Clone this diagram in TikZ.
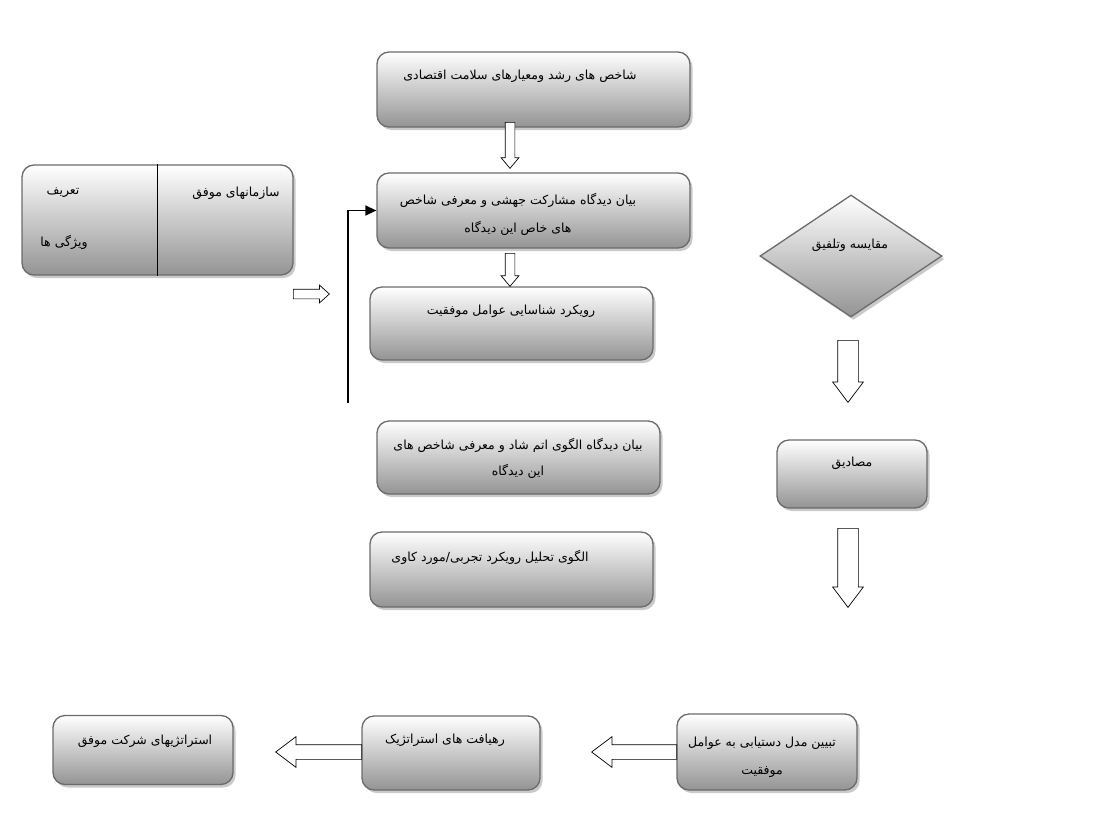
\documentclass[tikz,border=0pt]{standalone}
\usepackage{fontspec}
\newfontfamily\fa[Script=Arabic]{DejaVu Sans}
\TeXXeTstate=1
\usetikzlibrary{arrows.meta, positioning, shapes.geometric, shapes.arrows, shadows}

\begin{document}
\begin{tikzpicture}[x=1pt, y=-1pt,
      box/.style={draw=black!58, line width=1.3pt, rounded corners=12pt,
                  top color=white, bottom color=black!42,
                  drop shadow={shadow xshift=2.5pt, shadow yshift=-3pt, fill=black!35, opacity=0.6}},
      dmd/.style={box, diamond, sharp corners, inner sep=0pt},
      txt/.style={font=\fa\fontsize{12.5}{28}\selectfont, align=center},
      harr/.style={single arrow, draw=black, fill=white, line width=0.7pt, inner xsep=0pt,
                   inner ysep=4.5pt, single arrow head extend=4pt, single arrow tip angle=80,
                   anchor=tail},
      barr/.style={harr, inner ysep=10pt, single arrow head extend=5pt, single arrow tip angle=74},
      arr/.style={-{Triangle[length=11pt, width=10pt]}, line width=1.4pt}]

    \useasboundingbox (0,0) rectangle (1114,814);

    % ============================================
    % middle column
    % ============================================
    \node[box, minimum width=313pt, minimum height=75pt] (shaxes) at (533.5, 89.5) {};
    \node[txt] (shaxes-t) at (520, 76) {\beginR شاخص های رشد ومعیارهای سلامت اقتصادی\endR};

    \node[box, minimum width=313pt, minimum height=75pt] (jahesh) at (533.5, 210.5) {};
    \node[txt] (jahesh-t) at (518, 214) {\beginR بیان دیدگاه مشارکت جهشی و معرفی شاخص\endR\\
                                         \beginR های خاص این دیدگاه\endR};

    \node[box, minimum width=283pt, minimum height=73pt] (ravik) at (511.5, 323.5) {};
    \node[txt] (ravik-t) at (511, 311) {\beginR رویکرد شناسایی عوامل موفقیت\endR};

    \node[box, minimum width=283pt, minimum height=73pt] (atom) at (518.5, 457.5) {};
    \node[txt, font=\fa\fontsize{12.5}{26}\selectfont] (atom-t) at (518, 458)
        {\beginR بیان دیدگاه الگوی اتم شاد و معرفی شاخص های\endR\\ \beginR این دیدگاه\endR};

    \node[box, minimum width=283pt, minimum height=75pt] (olgu) at (511.5, 569.5) {};
    \node[txt] (olgu-t) at (490, 557) {\beginR الگوی تحلیل رویکرد تجربی/مورد کاوی\endR};

    \node[harr, rotate=-90, minimum height=46pt] (a1) at (510, 122) {};
    \node[harr, rotate=-90, minimum height=33pt] (a2) at (510, 253) {};

    % feedback line into the second box
    \coordinate (feed) at (348, 403);
    \draw[arr] (feed) |- (jahesh.west);

    % ============================================
    % left box
    % ============================================
    \node[box, minimum width=271pt, minimum height=110pt] (sazman) at (157.5, 220) {};
    \draw[line width=1.5pt] (sazman.north) -- (sazman.south);
    \node[txt] (sazman-t) at (236, 193) {\beginR سازمانهای موفق\endR};
    \node[txt] (tarif) at (63, 193) {\beginR تعریف\endR};
    \node[txt] (vizhegi) at (64, 242) {\beginR ویژگی ها\endR};

    \node[harr, minimum height=36pt, single arrow tip angle=84] (a3) at (293, 294) {};

    % ============================================
    % right column
    % ============================================
    \node[dmd, minimum width=182pt, minimum height=122pt] (moghayese) at (851, 256) {};
    \node[txt] (moghayese-t) at (850, 245) {\beginR مقایسه وتلفیق\endR};
    \node[barr, rotate=-90, minimum height=62pt] (a4) at (848, 340) {};

    \node[box, minimum width=150pt, minimum height=68pt] (masadiq) at (852, 474) {};
    \node[txt] (masadiq-t) at (852, 463) {\beginR مصادیق\endR};
    \node[barr, rotate=-90, minimum height=79pt] (a5) at (848, 528) {};

    % ============================================
    % bottom row
    % ============================================
    \node[box, minimum width=180pt, minimum height=76pt] (tabyin) at (767, 752) {};
    \node[txt] (tabyin-t) at (762, 757) {\beginR تبیین مدل دستیابی به عوامل\endR\\ \beginR موفقیت\endR};

    \node[box, minimum width=178pt, minimum height=74pt] (rahyaft) at (451, 753) {};
    \node[txt] (rahyaft-t) at (445, 740) {\beginR رهیافت های استراتژیک\endR};

    \node[box, minimum width=180pt, minimum height=69pt] (sherkat) at (143, 750) {};
    \node[txt] (sherkat-t) at (145, 741) {\beginR استراتژیهای شرکت موفق\endR};

    \node[barr, rotate=180, inner ysep=7pt, single arrow head extend=8pt, minimum height=85pt] (a6) at (677, 752) {};
    \node[barr, rotate=180, inner ysep=7pt, single arrow head extend=8pt, minimum height=86pt] (a7) at (362, 752) {};

\end{tikzpicture}
\end{document}
